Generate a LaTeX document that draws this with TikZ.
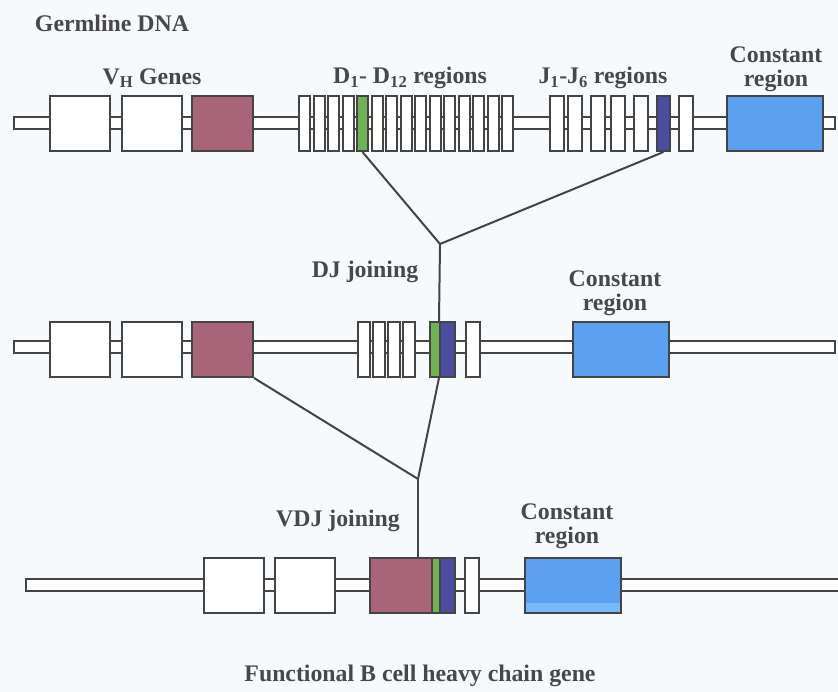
\documentclass[tikz,border=0pt]{standalone}
\usepackage{fontspec}
\setmainfont{Liberation Serif}
\definecolor{vcol}{RGB}{168,100,120}
\definecolor{dcol}{RGB}{110,178,82}
\definecolor{jcol}{RGB}{76,76,160}
\definecolor{ccol}{RGB}{92,160,240}
\definecolor{clight}{RGB}{120,185,248}
\definecolor{edge}{RGB}{68,68,68}
\definecolor{ink}{RGB}{72,72,72}
\definecolor{paper}{RGB}{247,250,252}
\tikzset{
	seg/.style={draw=edge, line width=2pt, fill=white, inner sep=0pt, minimum height=55pt},
	vbox/.style={seg, minimum width=60pt},
	dbox/.style={seg, minimum width=11pt},
	jbox/.style={seg, minimum width=14pt},
	cbox/.style={seg, fill=ccol, minimum width=96pt},
	backbone/.style={draw=edge, line width=1.6pt, fill=white},
	lbl/.style={text=ink, font=\bfseries\fontsize{23.8}{24}\selectfont, inner sep=0pt, align=center},
	link/.style={draw=edge, line width=2pt}
}
\begin{document}
\begin{tikzpicture}[x=1pt,y=-1pt]
		\useasboundingbox (0,0) rectangle (838,692);
		\fill [paper] (0,0) rectangle (838,692);
		% germline DNA
		\draw [backbone] (14,117) rectangle (835,129);
		\node [vbox] (va1) at (80,123.5) {};
		\node [vbox] (va2) at (152,123.5) {};
		\node [vbox, fill=vcol, minimum width=61pt] (va3) at (222.5,123.5) {};
		\node [dbox] (da1) at (304.5,123.5) {};
		\node [dbox] (da2) at (319,123.5) {};
		\node [dbox] (da3) at (333.5,123.5) {};
		\node [dbox] (da4) at (348,123.5) {};
		\node [dbox, fill=dcol] (da5) at (362.5,123.5) {};
		\node [dbox] (da6) at (377,123.5) {};
		\node [dbox] (da7) at (391.5,123.5) {};
		\node [dbox] (da8) at (406,123.5) {};
		\node [dbox] (da9) at (420.5,123.5) {};
		\node [dbox] (da10) at (435,123.5) {};
		\node [dbox] (da11) at (449.5,123.5) {};
		\node [dbox] (da12) at (464,123.5) {};
		\node [dbox] (da13) at (478.5,123.5) {};
		\node [dbox] (da14) at (493,123.5) {};
		\node [dbox] (da15) at (507.5,123.5) {};
		\node [jbox] (ja1) at (557,123.5) {};
		\node [jbox] (ja2) at (575,123.5) {};
		\node [jbox] (ja3) at (598,123.5) {};
		\node [jbox] (ja4) at (617.5,123.5) {};
		\node [jbox] (ja5) at (640.5,123.5) {};
		\node [jbox, fill=jcol, minimum width=13pt] (ja6) at (663.5,123.5) {};
		\node [jbox] (ja7) at (685.5,123.5) {};
		\node [cbox] (ca) at (775,123.5) {};
		% after DJ joining
		\draw [backbone] (14,341) rectangle (835,353);
		\node [vbox] (vb1) at (80,349.5) {};
		\node [vbox] (vb2) at (152,349.5) {};
		\node [vbox, fill=vcol, minimum width=61pt] (vb3) at (222.5,349.5) {};
		\node [dbox, minimum width=12pt] (db1) at (364,349.5) {};
		\node [dbox, minimum width=12pt] (db2) at (379,349.5) {};
		\node [dbox, minimum width=12pt] (db3) at (394,349.5) {};
		\node [dbox, minimum width=12pt] (db4) at (409,349.5) {};
		\node [dbox, fill=dcol, minimum width=10pt] (dbg) at (435,349.5) {};
		\node [jbox, fill=jcol, minimum width=15pt] (jbb) at (447.5,349.5) {};
		\node [jbox] (jbw) at (473,349.5) {};
		\node [cbox] (cb) at (621,349.5) {};
		% after VDJ joining
		\draw [backbone] (26,579) rectangle (842,591);
		\node [vbox] (vc1) at (234,585) {};
		\node [vbox] (vc2) at (305,585) {};
		\node [vbox, fill=vcol, minimum width=62pt] (vc3) at (401,585) {};
		\node [dbox, fill=dcol, minimum width=8pt] (dcg) at (436,585) {};
		\node [jbox, fill=jcol, minimum width=15pt] (jcb) at (447.5,585) {};
		\node [jbox] (jcw) at (472,585) {};
		\node [cbox] (cc) at (573,585) {};
		\fill [clight] (526,603) rectangle (620,612);
		% joining lines
		\coordinate (dj) at (440,244);
		\coordinate (vdj) at (418,479);
		\draw [link] (da5.south) -- (dj);
		\draw [link] (ja6.south) -- (dj);
		\draw [link] (dj) -- (jbb.north west);
		\draw [link] (jbb.south west) -- (vdj);
		\draw [link] (vb3.south east) -- (vdj);
		\draw [link] (vdj) -- (vdj |- vc3.north);
		% labels
		\node [lbl] (germ) at (112,23) {Germline DNA};
		\node [lbl] (vlbl) at (152,78) {V\textsubscript{H} Genes};
		\node [lbl] (dlbl) at (410,78) {D\textsubscript{1}- D\textsubscript{12} regions};
		\node [lbl] (jlbl) at (603,78) {J\textsubscript{1}-J\textsubscript{6} regions};
		\node [lbl] (clbla) at (776,69) {Constant\\region};
		\node [lbl] (djlbl) at (365,272) {DJ joining};
		\node [lbl] (clblb) at (615,293) {Constant\\region};
		\node [lbl] (vdjlbl) at (338,521) {VDJ joining};
		\node [lbl] (clblc) at (567,526) {Constant\\region};
		\node [lbl] (title) at (420,676) {Functional B cell heavy chain gene};
\end{tikzpicture}
\end{document}
